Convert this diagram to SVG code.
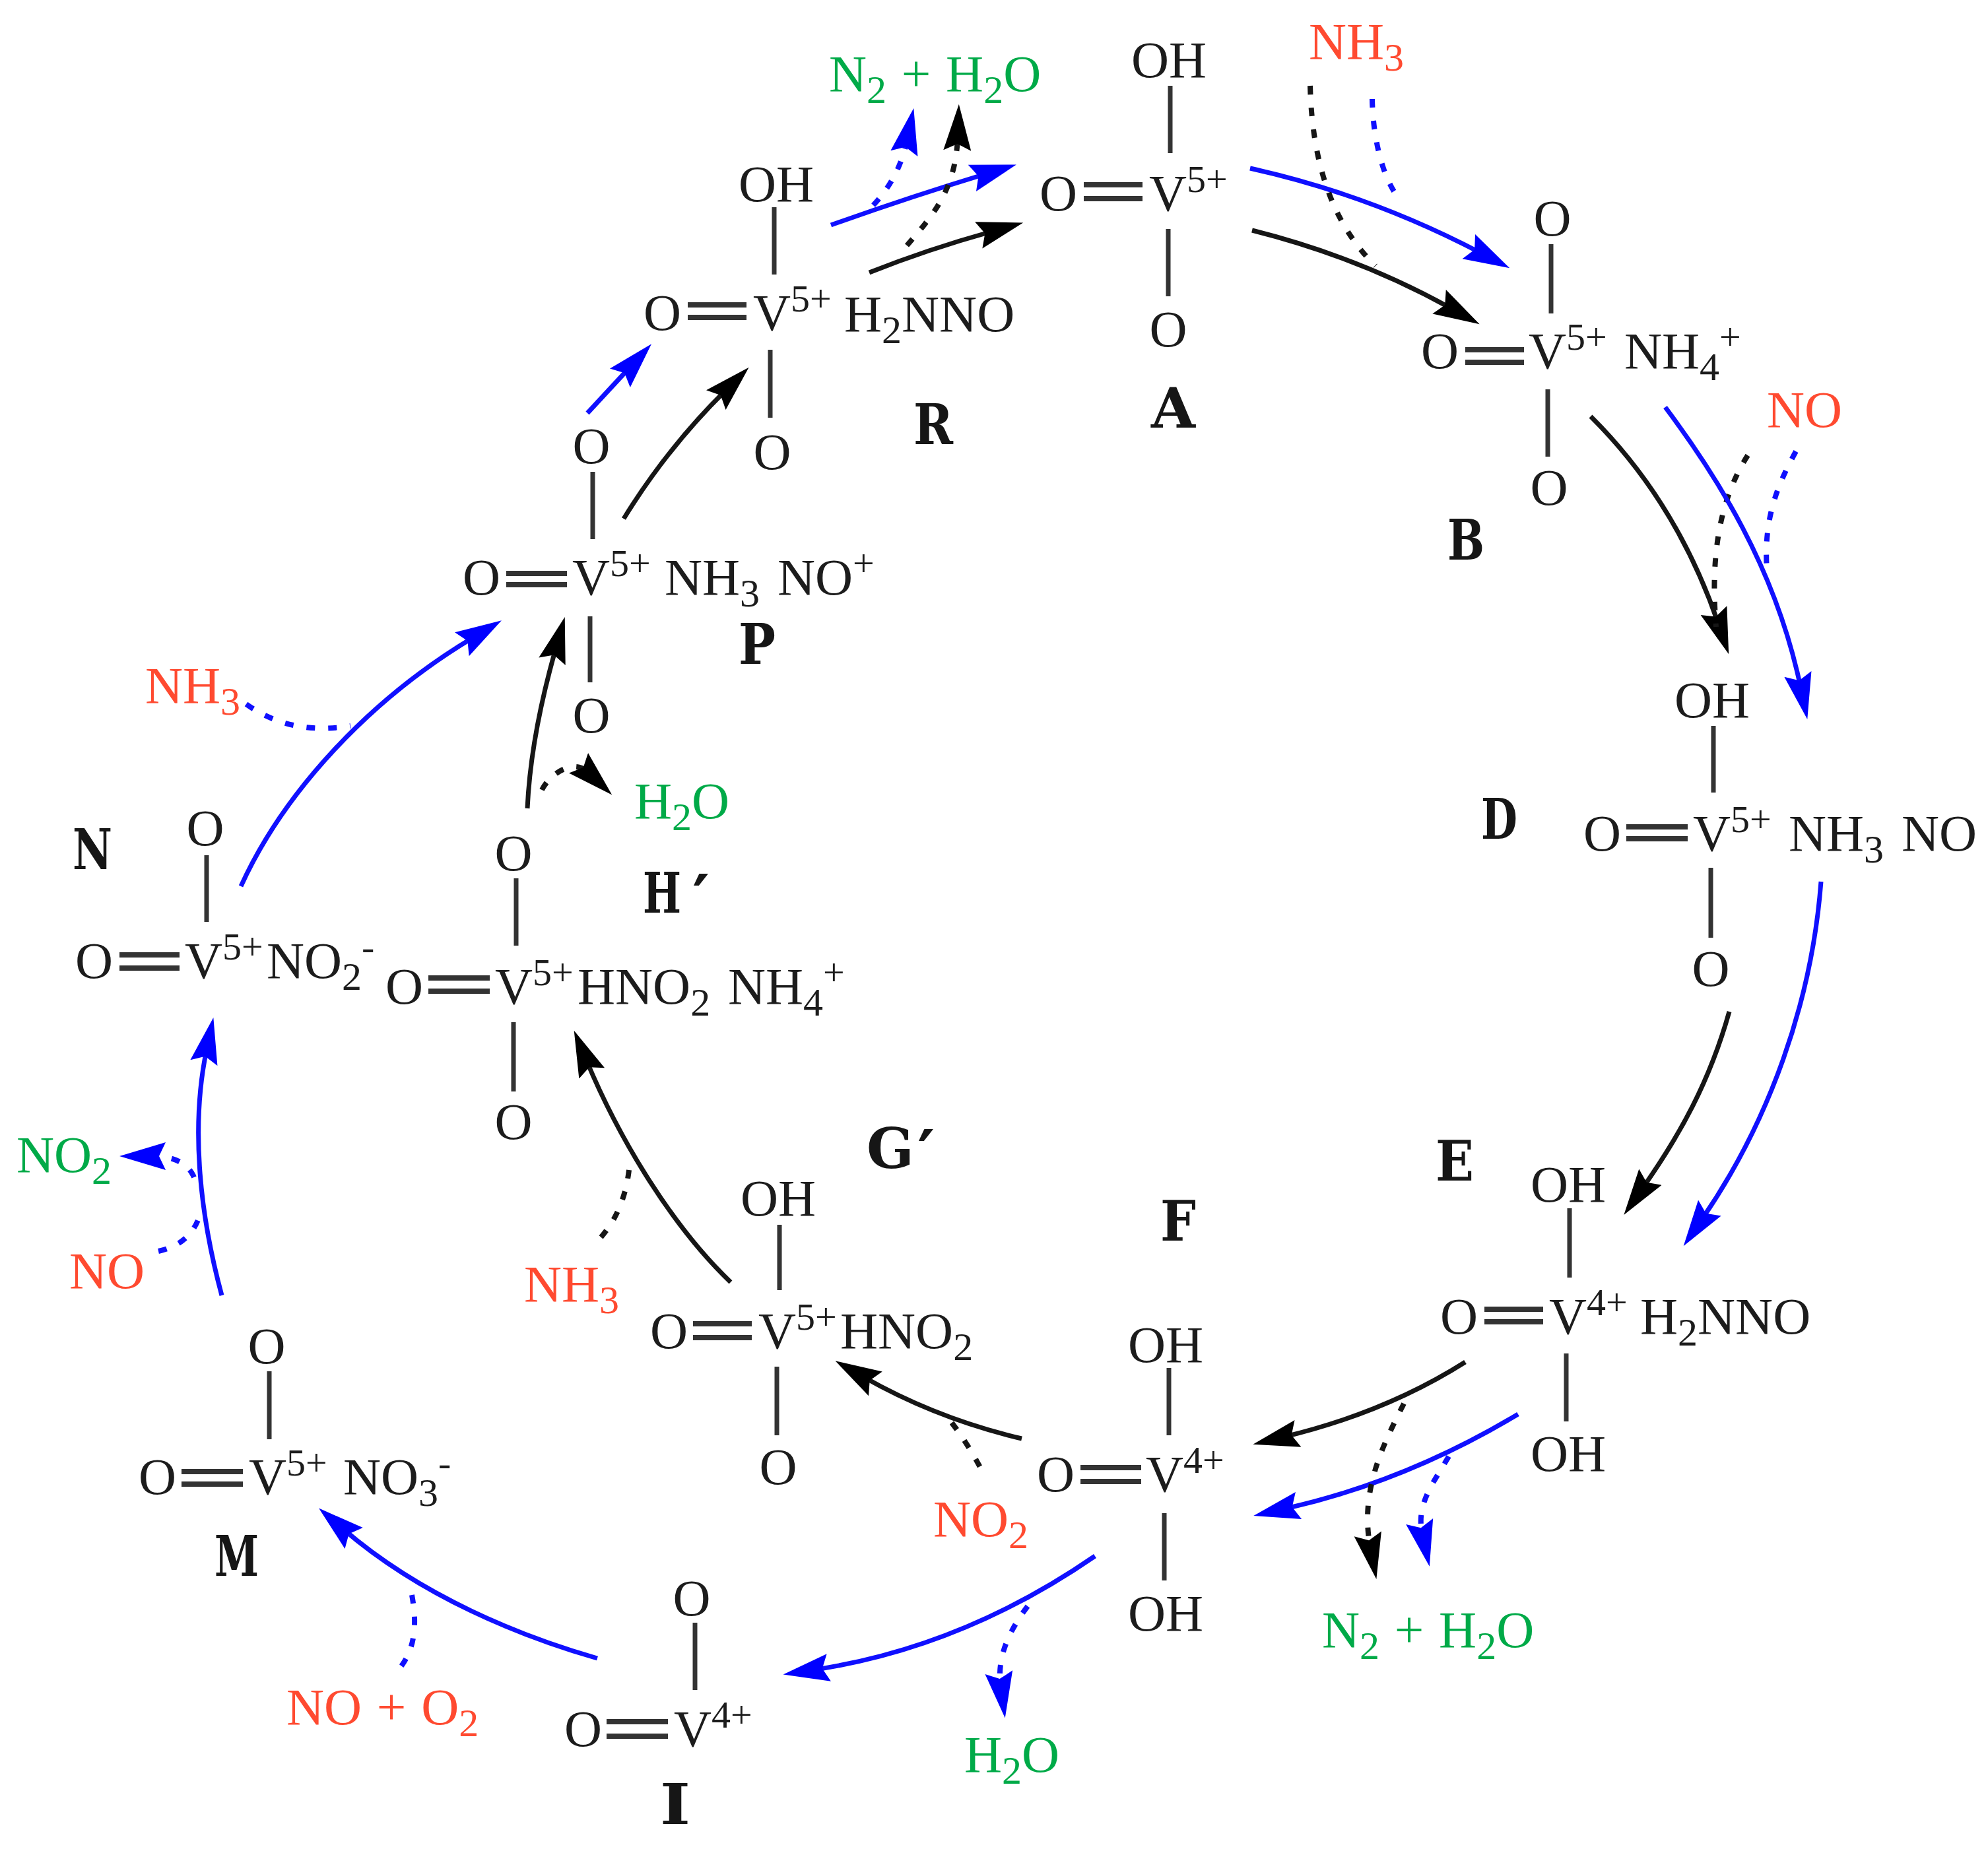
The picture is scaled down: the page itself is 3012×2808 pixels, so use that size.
<svg xmlns="http://www.w3.org/2000/svg" width="3012" height="2808" viewBox="0 0 3012 2808">
<style>
text{font-family:"Liberation Serif","Times New Roman",serif;font-size:79px;fill:#1c1c1c}
.s{font-size:58px}
.d{font-size:60px}
.r{fill:#ff4a30}
.g{fill:#00aa48}
.w{word-spacing:3px}
.l{font-family:"DejaVu Serif",serif;font-weight:700;font-size:84px;fill:#161616}
.p{font-size:100px}
.c{text-anchor:middle}
.b{stroke:#333;stroke-width:7;fill:none}
.b2{stroke:#333;stroke-width:8;fill:none}
.k,.u,.kd,.ud{fill:none;stroke-width:7}
.k,.kd{stroke:#161616}
.u,.ud{stroke:#1010ff}
.kd,.ud{stroke-dasharray:13 20;stroke-width:8}
.ma{marker-end:url(#hk)}
.mb{marker-end:url(#hu)}
</style>
<defs>
<marker id="hk" markerUnits="userSpaceOnUse" viewBox="0 -24 74 48" markerWidth="74" markerHeight="48" refX="20" refY="0" orient="auto"><path d="M0,-21 L70,0 L0,21 L10,0 Z" fill="#000"/></marker>
<marker id="hu" markerUnits="userSpaceOnUse" viewBox="0 -24 74 48" markerWidth="74" markerHeight="48" refX="20" refY="0" orient="auto"><path d="M0,-21 L70,0 L0,21 L10,0 Z" fill="#0000ff"/></marker>
</defs>
<rect width="3012" height="2808" fill="#fff"/>

<g id="connectors">
<path class="u mb" d="M1259 341 Q1380 298 1492 264"/>
<path class="k ma" d="M1317 413 Q1405 378 1502 351"/>
<path class="ud mb" d="M1323 311 Q1362 270 1374 213"/>
<path class="kd ma" d="M1374 372 C1410 330 1448 290 1451 208"/>
<path class="u mb" d="M1894 255 Q2075 295 2243 383"/>
<path class="k ma" d="M1897 349 Q2060 390 2198 467"/>
<path class="kd" d="M1985 130 C1988 250 2020 340 2084 403"/>
<path class="ud" d="M2079 150 C2080 210 2095 270 2119 300"/>
<path class="k ma" d="M2410 631 Q2540 760 2603 944"/>
<path class="kd" d="M2648 690 C2610 750 2590 830 2600 950"/>
<path class="u mb" d="M2523 617 C2600 720 2690 860 2728 1041"/>
<path class="ud" d="M2721 684 C2690 740 2672 790 2677 864"/>
<path class="u mb" d="M2759 1336 C2745 1520 2680 1700 2579 1847"/>
<path class="k ma" d="M2620 1533 C2590 1640 2545 1720 2489 1800"/>
<path class="k ma" d="M2220 2064 Q2100 2140 1947 2177"/>
<path class="u mb" d="M2300 2143 Q2130 2245 1948 2286"/>
<path class="kd ma" d="M2127 2127 C2095 2190 2060 2260 2076 2344"/>
<path class="ud mb" d="M2195 2207 C2170 2250 2145 2280 2155 2325"/>
<path class="k ma" d="M1548 2180 Q1420 2150 1309 2087"/>
<path class="kd" d="M1442 2156 Q1468 2190 1490 2233"/>
<path class="u mb" d="M1659 2358 C1540 2440 1400 2505 1236 2530"/>
<path class="ud mb" d="M1557 2434 C1530 2470 1510 2510 1516 2554"/>
<path class="u mb" d="M905 2513 C790 2480 640 2420 521 2318"/>
<path class="ud" d="M624 2417 C632 2460 630 2500 603 2531"/>
<path class="u mb" d="M890 626 L953 558"/>
<path class="k ma" d="M945 786 Q1010 680 1099 592"/>
<path class="u mb" d="M365 1343 C430 1200 560 1060 717 966"/>
<path class="k ma" d="M799 1225 C803 1140 820 1060 842 983"/>
<path class="kd ma" d="M821 1197 C835 1170 870 1150 891 1170"/>
<path class="ud" d="M373 1067 Q440 1115 531 1100"/>
<path class="u mb" d="M336 1963 C300 1830 290 1700 313 1591"/>
<path class="ud mb" d="M294 1784 Q280 1752 231 1752"/>
<path class="ud" d="M240 1896 Q290 1885 303 1840"/>
<path class="k ma" d="M1107 1943 C1020 1860 940 1730 889 1608"/>
<path class="kd" d="M953 1773 Q945 1840 904 1882"/>
</g>

<g id="node-A">
<text class="c" x="1771" y="117">OH</text><path class="b" d="M1773 130V232M1770 347V449"/><path class="b2" d="M1642 280H1731M1642 301H1731"/>
<text x="1575" y="319">O</text><text x="1741" y="319">V<tspan class="s" dy="-28">5+</tspan></text>
<text class="c" x="1770" y="525">O</text><text class="l" x="1744" y="648" textLength="67" lengthAdjust="spacingAndGlyphs">A</text>
</g>
<g id="node-B">
<text class="c" x="2352" y="357">O</text><path class="b" d="M2350 370V475M2345 590V692"/><path class="b2" d="M2220 530H2309M2220 549H2309"/>
<text x="2153" y="558">O</text><text x="2316" y="558">V<tspan class="s" dy="-28">5+</tspan></text>
<text x="2461" y="558">NH<tspan class="d" dy="18">4</tspan><tspan class="s" dy="-46">+</tspan></text>
<text class="c" x="2347" y="765">O</text><text class="l" x="2193" y="848" textLength="56" lengthAdjust="spacingAndGlyphs">B</text>
</g>
<g id="node-D">
<text class="c" x="2594" y="1087">OH</text><path class="b" d="M2596 1100V1201M2592 1315V1421"/><path class="b2" d="M2464 1253H2557M2464 1271H2557"/>
<text x="2399" y="1289">O</text><text x="2565" y="1289">V<tspan class="s" dy="-28">5+</tspan></text>
<text x="2710" y="1289">NH<tspan class="d" dy="18">3</tspan></text><text x="2881" y="1289">NO</text>
<text class="c" x="2592" y="1494">O</text><text class="l" x="2244" y="1271" textLength="55" lengthAdjust="spacingAndGlyphs">D</text>
</g>
<g id="node-E">
<text class="c" x="2376" y="1821">OH</text><path class="b" d="M2378 1831V1936M2373 2051V2154"/><path class="b2" d="M2249 1984H2338M2249 2003H2338"/>
<text x="2182" y="2021">O</text><text x="2347" y="2021">V<tspan class="s" dy="-28">4+</tspan></text>
<text x="2485" y="2021">H<tspan class="d" dy="18">2</tspan><tspan dy="-18">NNO</tspan></text>
<text class="c" x="2376" y="2229">OH</text><text class="l" x="2175" y="1789" textLength="58" lengthAdjust="spacingAndGlyphs">E</text>
</g>
<g id="node-F">
<text class="c" x="1766" y="2064">OH</text><path class="b" d="M1771 2073V2175M1764 2293V2395"/><path class="b2" d="M1637 2224H1729M1637 2245H1729"/>
<text x="1571" y="2260">O</text><text x="1736" y="2260">V<tspan class="s" dy="-28">4+</tspan></text>
<text class="c" x="1766" y="2471">OH</text><text class="l" x="1758" y="1880" textLength="54" lengthAdjust="spacingAndGlyphs">F</text>
</g>
<g id="node-G">
<text class="c" x="1179" y="1842">OH</text><path class="b" d="M1181 1856V1955M1177 2071V2175"/><path class="b2" d="M1050 2006H1139M1050 2027H1139"/>
<text x="985" y="2043">O</text><text x="1149" y="2043">V<tspan class="s" dy="-28">5+</tspan></text>
<text x="1273" y="2043">HNO<tspan class="d" dy="18">2</tspan></text>
<text class="c" x="1179" y="2249">O</text><text class="l" x="1313" y="1770">G<tspan class="p" x="1390" dy="13">′</tspan></text>
</g>
<g id="node-H">
<text class="c" x="778" y="1319">O</text><path class="b" d="M782 1331V1433M778 1549V1654"/><path class="b2" d="M649 1482H742M649 1502H742"/>
<text x="584" y="1521">O</text><text x="750" y="1521">V<tspan class="s" dy="-28">5+</tspan></text>
<text x="875" y="1521">HNO<tspan class="d" dy="18">2</tspan></text><text x="1103" y="1521">NH<tspan class="d" dy="18">4</tspan><tspan class="s" dy="-46">+</tspan></text>
<text class="c" x="778" y="1726">O</text><text class="l" x="974" y="1383"><tspan textLength="58" lengthAdjust="spacingAndGlyphs">H</tspan><tspan class="p" x="1049" dy="13">′</tspan></text>
</g>
<g id="node-I">
<text class="c" x="1048" y="2448">O</text><path class="b" d="M1053 2459V2561"/><path class="b2" d="M919 2609H1012M919 2631H1012"/>
<text x="855" y="2646">O</text><text x="1021" y="2646">V<tspan class="s" dy="-28">4+</tspan></text>
<text class="l" x="1000" y="2764" textLength="46" lengthAdjust="spacingAndGlyphs">I</text>
</g>
<g id="node-M">
<text class="c" x="404" y="2066">O</text><path class="b" d="M408 2078V2181"/><path class="b2" d="M275 2230H368M275 2249H368"/>
<text x="210" y="2264">O</text><text x="377" y="2264">V<tspan class="s" dy="-28">5+</tspan></text>
<text x="520" y="2264">NO<tspan class="d" dy="18">3</tspan><tspan class="s" dy="-46">-</tspan></text>
<text class="l" x="325" y="2388" textLength="67" lengthAdjust="spacingAndGlyphs">M</text>
</g>
<g id="node-N">
<text class="c" x="311" y="1281">O</text><path class="b" d="M313 1296V1397"/><path class="b2" d="M181 1447H272M181 1467H272"/>
<text x="114" y="1482">O</text><text x="280" y="1482">V<tspan class="s" dy="-28">5+</tspan></text>
<text x="404" y="1482">NO<tspan class="d" dy="18">2</tspan><tspan class="s" dy="-46">-</tspan></text>
<text class="l" x="110" y="1317" textLength="60" lengthAdjust="spacingAndGlyphs">N</text>
</g>
<g id="node-P">
<text class="c" x="896" y="702">O</text><path class="b" d="M898 715V817M894 934V1034"/><path class="b2" d="M767 869H859M767 886H859"/>
<text x="701" y="901">O</text><text x="867" y="901">V<tspan class="s" dy="-28">5+</tspan></text>
<text x="1007" y="901">NH<tspan class="d" dy="18">3</tspan></text><text x="1178" y="901">NO<tspan class="s" dy="-28">+</tspan></text>
<text class="c" x="896" y="1110">O</text><text class="l" x="1119" y="1006" textLength="56" lengthAdjust="spacingAndGlyphs">P</text>
</g>
<g id="node-R">
<text class="c" x="1176" y="305">OH</text><path class="b" d="M1173 314V416M1167 530V633"/><path class="b2" d="M1042 462H1131M1042 481H1131"/>
<text x="975" y="500">O</text><text x="1141" y="500">V<tspan class="s" dy="-28">5+</tspan></text>
<text x="1279" y="502">H<tspan class="d" dy="18">2</tspan><tspan dy="-18">NNO</tspan></text>
<text class="c" x="1170" y="711">O</text><text class="l" x="1384" y="673" textLength="60" lengthAdjust="spacingAndGlyphs">R</text>
</g>

<g id="reagents">
<text class="r" x="1983" y="89">NH<tspan class="d" dy="18">3</tspan></text>
<text class="r" x="2677" y="647">NO</text>
<text class="r" x="1414" y="2328">NO<tspan class="d" dy="18">2</tspan></text>
<text class="r w" x="434" y="2613">NO + O<tspan class="d" dy="18">2</tspan></text>
<text class="r" x="220" y="1065">NH<tspan class="d" dy="18">3</tspan></text>
<text class="r" x="105" y="1952">NO</text>
<text class="r" x="794" y="1972">NH<tspan class="d" dy="18">3</tspan></text>
</g>
<g id="products">
<text class="g w" x="1256" y="138">N<tspan class="d" dy="18">2</tspan><tspan dy="-18"> + H</tspan><tspan class="d" dy="18">2</tspan><tspan dy="-18">O</tspan></text>
<text class="g w" x="2003" y="2496">N<tspan class="d" dy="18">2</tspan><tspan dy="-18"> + H</tspan><tspan class="d" dy="18">2</tspan><tspan dy="-18">O</tspan></text>
<text class="g" x="1461" y="2685">H<tspan class="d" dy="18">2</tspan><tspan dy="-18">O</tspan></text>
<text class="g" x="961" y="1240">H<tspan class="d" dy="18">2</tspan><tspan dy="-18">O</tspan></text>
<text class="g" x="25" y="1776">NO<tspan class="d" dy="18">2</tspan></text>
</g>
</svg>
